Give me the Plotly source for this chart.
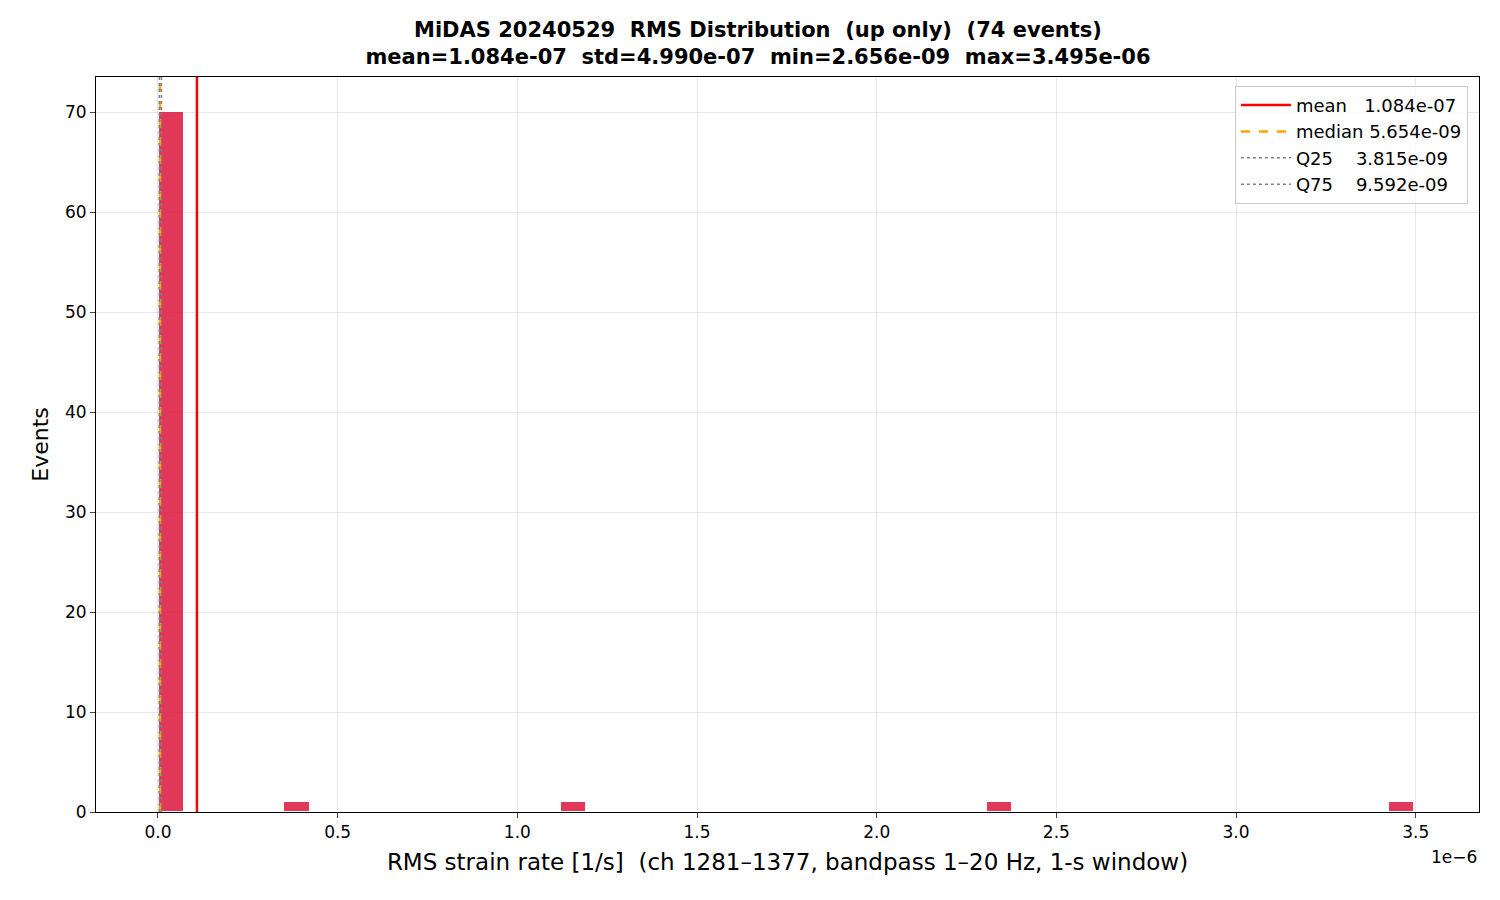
import plotly.graph_objects as go

# histogram of RMS values (50 bins between min and max)
rms_min = 2.656e-09
rms_max = 3.495e-06
n_bins = 50
bin_index = [0, 5, 16, 33, 49]
bin_count = [70, 1, 1, 1, 1]

# summary stats
stat_names = ["mean", "median", "Q25", "Q75"]
stat_values = [1.084e-07, 5.654e-09, 3.815e-09, 9.592e-09]
stat_labels = ["mean   1.084e-07", "median 5.654e-09", "Q25    3.815e-09", "Q75    9.592e-09"]

xticks = [0.0, 0.5, 1.0, 1.5, 2.0, 2.5, 3.0, 3.5]

width = (rms_max - rms_min) / n_bins
centers = [rms_min + (i + 0.5) * width for i in bin_index]

fig = go.Figure()
fig.add_trace(go.Bar(
    x=centers, y=bin_count, width=[width] * len(centers),
    marker=dict(color="rgba(220,20,60,0.85)", line=dict(color="white", width=1)),
    showlegend=False, hoverinfo="x+y",
))

styles = [
    dict(color="red", width=2.5, dash="solid"),
    dict(color="orange", width=2.5, dash="dash"),
    dict(color="gray", width=1.5, dash="dot"),
    dict(color="gray", width=1.5, dash="dot"),
]
for val, lab, st in zip(stat_values, stat_labels, styles):
    fig.add_shape(type="line", x0=val, x1=val, y0=0, y1=1, yref="y domain",
                  line=st, showlegend=True, name=lab)

fig.add_annotation(text="1e\u22126", xref="paper", yref="paper", x=1.0, y=-0.045,
                   xanchor="right", yanchor="top", showarrow=False,
                   font=dict(size=17, color="black"))

fig.update_layout(
    width=1500, height=900,
    paper_bgcolor="white", plot_bgcolor="white",
    font=dict(family="DejaVu Sans", color="black"),
    margin=dict(l=88, r=29, t=69, b=96),
    title=dict(
        text="<b>MiDAS 20240529  RMS Distribution  (up only)  (74 events)<br>"
             "mean=1.084e-07  std=4.990e-07  min=2.656e-09  max=3.495e-06</b>",
        x=0.5, xanchor="center", y=0.968, yanchor="top", font=dict(size=21),
    ),
    xaxis=dict(
        range=[-0.1725e-6, 3.676e-6],
        tickvals=[v * 1e-6 for v in xticks], ticktext=[f"{v:.1f}" for v in xticks],
        showline=True, linecolor="black", mirror=True, ticks="outside",
        showgrid=True, gridcolor="rgba(0,0,0,0.09)", zeroline=False,
        tickfont=dict(size=17),
        title=dict(text="RMS strain rate [1/s]  (ch 1281\u20131377, bandpass 1\u201320 Hz, 1-s window)",
                   font=dict(size=23), standoff=12),
    ),
    yaxis=dict(
        range=[0, 73.5], dtick=10,
        showline=True, linecolor="black", mirror=True, ticks="outside",
        showgrid=True, gridcolor="rgba(0,0,0,0.09)", zeroline=False,
        tickfont=dict(size=17),
        title=dict(text="Events", font=dict(size=22), standoff=10),
    ),
    legend=dict(x=0.992, y=0.988, xanchor="right", yanchor="top",
                bordercolor="#cccccc", borderwidth=1, bgcolor="rgba(255,255,255,0.8)",
                font=dict(size=18), itemwidth=50),
    bargap=0,
)

fig.write_html("out.html")
